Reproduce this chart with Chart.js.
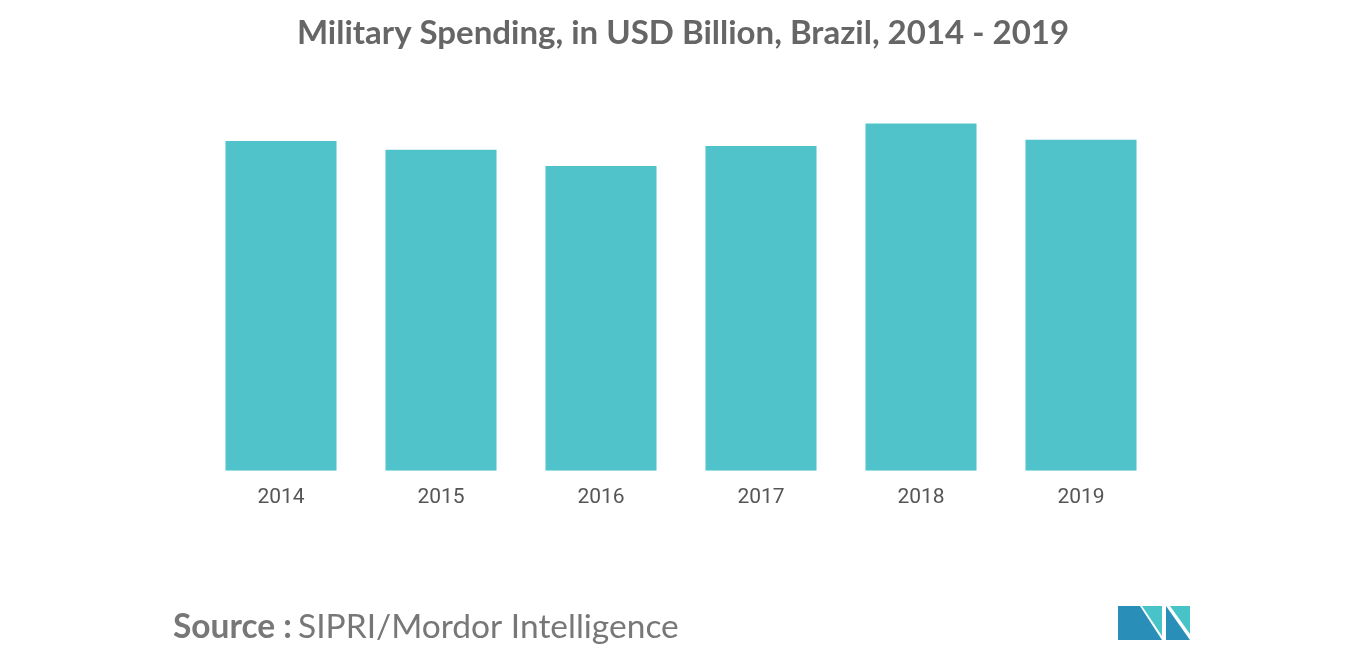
<!DOCTYPE html>
<html><head><meta charset="utf-8">
<script src="https://cdn.jsdelivr.net/npm/chart.js@4"></script>
<style>html,body{margin:0;padding:0;background:#fff}#w{width:1366px;height:655px}</style>
</head><body><div id="w"><canvas id="c"></canvas></div>
<script>
const categories = ["2014","2015","2016","2017","2018","2019"];
const spending = [26.4, 25.7, 24.4, 26.0, 27.8, 26.5];
const titleText = "Military Spending, in USD Billion, Brazil, 2014 - 2019";

const deco = {
  id:'deco',
  afterDraw(ch){
    const g = ch.ctx; g.save();
    g.fillStyle='#666'; g.textAlign='center'; g.textBaseline='middle';
    g.font='bold 33px Lato, "Open Sans", sans-serif';
    g.fillText(titleText, 683, 33);
    g.textAlign='left';
    g.font='bold 33.5px Lato, sans-serif'; g.fillStyle='#777';
    g.fillText('Source :', 173, 627);
    const w = g.measureText('Source :').width;
    g.font='33.5px Lato, sans-serif';
    g.fillText('SIPRI/Mordor Intelligence', 173+w+6, 627);
    // logo
    g.fillStyle='#2a8fb8';
    g.beginPath(); g.moveTo(1118,640); g.lineTo(1118,606); g.lineTo(1140,606); g.lineTo(1162,640); g.closePath(); g.fill();
    g.fillStyle='#48c4c9';
    g.beginPath(); g.moveTo(1142,606); g.lineTo(1162,606); g.lineTo(1162,636); g.closePath(); g.fill();
    g.fillStyle='#2a8fb8';
    g.beginPath(); g.moveTo(1166,640); g.lineTo(1166,606); g.lineTo(1190,640); g.closePath(); g.fill();
    g.fillStyle='#48c4c9';
    g.beginPath(); g.moveTo(1170,606); g.lineTo(1190,606); g.lineTo(1190,634); g.closePath(); g.fill();
    g.restore();
  }
};
new Chart(document.getElementById('c'), {
  type:'bar',
  data:{labels:categories, datasets:[{data:spending, backgroundColor:'#4fc3c9', barPercentage:0.694, categoryPercentage:1}]},
  options:{
    responsive:true, maintainAspectRatio:false, animation:false,
    layout:{padding:{left:201, right:205, top:96, bottom:139}},
    plugins:{legend:{display:false}, tooltip:{enabled:false}},
    scales:{
      y:{display:false, min:0, max:30},
      x:{grid:{display:false}, border:{display:false},
         ticks:{color:'#555', font:{family:'Roboto', size:21}, padding:6}}
    }
  },
  plugins:[deco]
});
</script></body></html>
